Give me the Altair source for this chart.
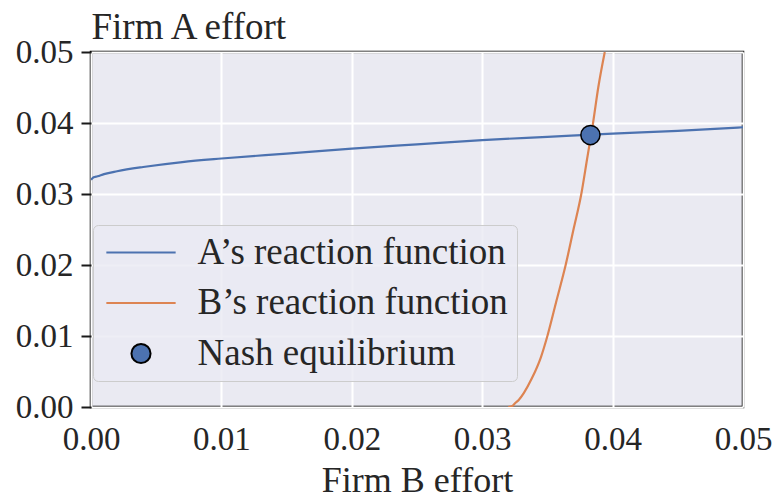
import altair as alt
import pandas as pd

# ---- data ----
# A's reaction function: Firm A effort as a function of Firm B effort
b_effort_for_a = [0.0, 0.0002, 0.0005, 0.001, 0.002, 0.004, 0.007, 0.01, 0.015,
                  0.02, 0.025, 0.03, 0.035, 0.04, 0.045, 0.05]
a_reaction = [0.0320, 0.03235, 0.0325, 0.0328, 0.0332, 0.0338, 0.0345, 0.0350, 0.0357,
              0.0364, 0.0370, 0.0376, 0.03805, 0.0385, 0.0389, 0.0394]

# B's reaction function: Firm B effort as a function of Firm A effort
a_effort_for_b = [0.0, 0.0002, 0.0005, 0.001, 0.002, 0.004, 0.007, 0.01, 0.015,
                  0.02, 0.025, 0.03, 0.035, 0.04, 0.045, 0.05]
b_reaction = [0.0320, 0.03235, 0.0325, 0.0328, 0.0332, 0.0338, 0.0345, 0.0350, 0.0357,
              0.0364, 0.0370, 0.0376, 0.03805, 0.0385, 0.0389, 0.0394]

nash_b = [0.0383]
nash_a = [0.0383]

series_names = ["A\u2019s reaction function", "B\u2019s reaction function", "Nash equilibrium"]
stroke_colors = ["#4C72B0", "#DD8452", "black"]
fill_colors = ["#4C72B0", "#DD8452", "#4C72B0"]
tick_values = [0.0, 0.01, 0.02, 0.03, 0.04, 0.05]

# symbol shapes (unit paths, scaled by the symbol size)
LINE_PATH = "M-2.1,0H2.1"
CIRCLE_PATH = "M-0.58,0A0.58,0.58,0,1,0,0.58,0A0.58,0.58,0,1,0,-0.58,0Z"
legend_shapes = [LINE_PATH, LINE_PATH, CIRCLE_PATH]
SYMBOL_SIZE = 1089

# ---- tables ----
rows = []
for i, (xb, ya) in enumerate(zip(b_effort_for_a, a_reaction)):
    rows.append({"b": xb, "a": ya, "series": series_names[0], "idx": i})
for i, (ya, xb) in enumerate(zip(a_effort_for_b, b_reaction)):
    rows.append({"b": xb, "a": ya, "series": series_names[1], "idx": i})
lines_df = pd.DataFrame(rows)
nash_df = pd.DataFrame({"b": nash_b, "a": nash_a, "series": [series_names[2]] * len(nash_b)})

FONT = "Liberation Serif"
TXT = "#262626"

x_scale = alt.Scale(domain=[0, 0.05], nice=False, zero=False)
y_scale = alt.Scale(domain=[0, 0.05], nice=False, zero=False)

legend = alt.Legend(
    title=None,
    orient="none",
    legendX=2,
    legendY=173,
    direction="vertical",
    fillColor="rgba(234,234,242,0.8)",
    strokeColor="#CCCCCC",
    cornerRadius=5,
    padding=9,
    labelFont=FONT,
    labelFontSize=37,
    labelColor=TXT,
    labelOffset=38,
    symbolOffset=20.5,
    rowPadding=12.5,
    symbolSize=SYMBOL_SIZE,
    symbolStrokeWidth=2,
    symbolOpacity=1,
    labelLimit=0,
)

stroke_scale = alt.Scale(domain=series_names, range=stroke_colors)
fill_scale = alt.Scale(domain=series_names, range=fill_colors)
shape_scale = alt.Scale(domain=series_names, range=legend_shapes)

x_enc = alt.X(
    "b:Q",
    scale=x_scale,
    axis=alt.Axis(
        values=tick_values,
        format=".2f",
        title="Firm B effort",
        titleFont=FONT,
        titleFontSize=36,
        titleFontWeight="normal",
        titleColor=TXT,
        titleBaseline="alphabetic",
        titleY=84,
        labelFont=FONT,
        labelFontSize=33,
        labelColor=TXT,
        labelPadding=16,
        labelFlush=False,
        labelOverlap=False,
        ticks=False,
        tickSize=0,
        domain=False,
        grid=True,
        gridColor="white",
        gridWidth=2,
    ),
)

y_enc = alt.Y(
    "a:Q",
    scale=y_scale,
    axis=alt.Axis(
        values=tick_values,
        format=".2f",
        title="Firm A effort",
        titleFont=FONT,
        titleFontSize=37,
        titleFontWeight="normal",
        titleColor=TXT,
        titleAngle=0,
        titleAlign="left",
        titleBaseline="alphabetic",
        titleX=0,
        titleY=-14,
        labelFont=FONT,
        labelFontSize=33,
        labelColor=TXT,
        labelPadding=8,
        labelFlush=False,
        labelOverlap=False,
        ticks=True,
        tickSize=10,
        tickWidth=2,
        tickColor="#1a1a1a",
        domain=False,
        grid=True,
        gridColor="white",
        gridWidth=2,
    ),
)

lines = alt.Chart(lines_df).mark_line(
    strokeWidth=2.2, clip=True, interpolate="monotone"
).encode(
    x=x_enc,
    y=y_enc,
    stroke=alt.Stroke("series:N", scale=stroke_scale, legend=legend),
    order=alt.Order("idx:Q"),
)

point = alt.Chart(nash_df).mark_point(
    filled=True, strokeWidth=1.5, opacity=1, size=SYMBOL_SIZE
).encode(
    x=alt.X("b:Q", scale=x_scale),
    y=alt.Y("a:Q", scale=y_scale),
    stroke=alt.Stroke("series:N", scale=stroke_scale, legend=legend),
    fill=alt.Fill("series:N", scale=fill_scale, legend=legend),
    shape=alt.Shape("series:N", scale=shape_scale, legend=legend),
)

chart = (
    alt.layer(lines, point)
    .properties(
        width=652,
        height=355,
        background="white",
        padding={"left": 91, "top": 52, "right": 31, "bottom": 88},
        autosize=alt.AutoSizeParams(type="none"),
    )
    .configure_view(fill="#EAEAF2", stroke="black", strokeWidth=2.5)
)

chart.save("out.html", embed_options={"renderer": "svg", "actions": False})
